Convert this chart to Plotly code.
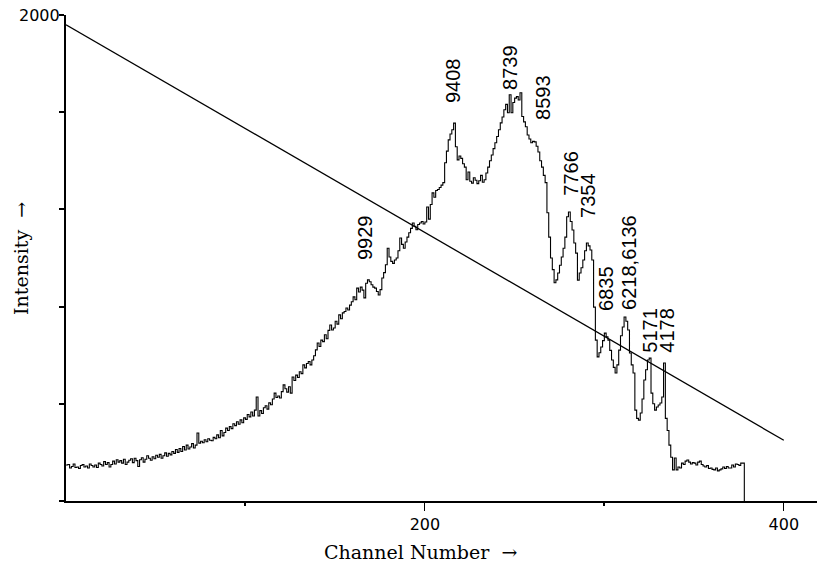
import plotly.graph_objects as go

# Counts per channel (channel index = position in list); the final 0 closes the histogram
counts = [
    148, 150, 136, 142, 152, 138, 140, 134, 146, 150,
    140, 144, 136, 152, 146, 140, 148, 138, 156, 150,
    144, 162, 150, 158, 140, 150, 164, 152, 170, 160,
    166, 156, 172, 150, 160, 168, 174, 158, 176, 166,
    142, 170, 178, 160, 172, 186, 176, 168, 182, 174,
    188, 180, 192, 176, 186, 198, 184, 196, 190, 204,
    196, 212, 200, 216, 204, 224, 210, 230, 214, 222,
    236, 218, 230, 280, 238, 246, 240, 252, 244, 256,
    250, 248, 262, 256, 272, 260, 290, 268, 282, 300,
    290, 306, 298, 318, 310, 326, 316, 334, 322, 342,
    336, 356, 346, 366, 350, 374, 428, 350, 372, 360,
    384, 392, 378, 404, 396, 420, 444, 426, 432, 424,
    450, 478, 462, 448, 470, 444, 510, 496, 518, 508,
    532, 524, 560, 548, 566, 574, 560, 580, 598, 622,
    650, 636, 662, 656, 684, 668, 702, 724, 704, 712,
    740, 728, 766, 750, 774, 780, 794, 786, 806, 820,
    840, 828, 876, 860, 880, 868, 836, 896, 910, 902,
    890, 880, 876, 862, 848, 870, 918, 940, 972, 1040,
    1004, 986, 978, 992, 1000, 1030, 1082, 1056, 1040, 1066,
    1086, 1104, 1122, 1144, 1130, 1116, 1138, 1144, 1150, 1140,
    1148, 1210, 1160, 1220, 1268, 1250, 1278, 1282, 1290, 1300,
    1310, 1392, 1440, 1486, 1510, 1528, 1555, 1458, 1404, 1420,
    1410, 1388, 1374, 1322, 1354, 1316, 1308, 1330, 1320, 1306,
    1318, 1340, 1312, 1322, 1350, 1374, 1400, 1424, 1450, 1474,
    1500, 1528, 1556, 1580, 1610, 1632, 1598, 1672, 1598, 1640,
    1658, 1664, 1650, 1680, 1582, 1560, 1540, 1506, 1490, 1474,
    1480, 1478, 1460, 1436, 1400, 1374, 1340, 1310, 1186, 1086,
    1000, 952, 898, 910, 938, 970, 1004, 1040, 1086, 1170,
    1189, 1150, 1115, 1062, 1020, 909, 938, 960, 992, 1030,
    1062, 1050, 1033, 992, 798, 662, 593, 610, 634, 660,
    691, 676, 662, 620, 580, 550, 527, 560, 621, 680,
    716, 757, 740, 704, 609, 560, 527, 374, 340, 333,
    362, 420, 498, 540, 580, 588, 444, 400, 374, 387,
    395, 403, 428, 568, 340, 290, 230, 180, 128, 177,
    128, 140, 136, 156, 150, 164, 169, 160, 152, 158,
    156, 148, 160, 164, 150, 144, 140, 146, 134, 136,
    130, 128, 136, 124, 128, 132, 140, 134, 142, 136,
    136, 148, 140, 152, 150, 146, 156, 156,
    0,
]
channels = list(range(len(counts)))

# Straight reference line across the spectrum
line_x = [0, 400]
line_y = [1960, 250]

# Peak labels: text, channel, intensity of label centre
peak_labels = ["9929", "9408", "8739", "8593", "7766", "7354",
               "6218,6136", "6835", "5171", "4178"]
peak_x = [166.6, 215.6, 247.4, 265.7, 281.3, 290.8, 313.6, 300.8, 325.3, 334.8]
peak_y = [1086, 1732, 1786, 1662, 1350, 1259, 983, 876, 704, 704]

x_major = [200, 400]
x_minor = [100, 300]
y_ticks = [0, 400, 800, 1200, 1600, 2000]
y_top_label = "2000"

fig = go.Figure()

fig.add_trace(go.Scatter(
    x=channels, y=counts, mode="lines",
    line=dict(color="black", width=1.1, shape="hv"),
    hoverinfo="skip", showlegend=False,
))

fig.add_trace(go.Scatter(
    x=line_x, y=line_y, mode="lines",
    line=dict(color="black", width=1.3),
    hoverinfo="skip", showlegend=False,
))

annotations = []
for txt, px, py in zip(peak_labels, peak_x, peak_y):
    annotations.append(dict(
        x=px, y=py, xref="x", yref="y", text=txt, textangle=-90,
        showarrow=False, xanchor="center", yanchor="middle",
        font=dict(family="Liberation Sans, Arial", size=20, color="black"),
    ))

# Only the top of the intensity scale carries a number
annotations.append(dict(
    x=-0.065, y=y_ticks[-1], xref="paper", yref="y", text=y_top_label,
    showarrow=False, xanchor="left", yanchor="middle",
    font=dict(family="DejaVu Sans", size=16, color="black"),
))

# Axis titles
annotations.append(dict(
    x=0.472, y=-0.105, xref="paper", yref="paper",
    text="Channel Number  \u2192", showarrow=False,
    xanchor="center", yanchor="middle",
    font=dict(family="DejaVu Serif", size=19, color="black"),
))
annotations.append(dict(
    x=-0.06, y=0.5, xref="paper", yref="paper",
    text="Intensity  \u2192", textangle=-90, showarrow=False,
    xanchor="center", yanchor="middle",
    font=dict(family="DejaVu Serif", size=19, color="black"),
))

fig.update_layout(
    width=817, height=567,
    margin=dict(l=66, r=0, t=15, b=66),
    paper_bgcolor="white", plot_bgcolor="white",
    annotations=annotations,
    xaxis=dict(
        range=[0, 418.5], showgrid=False, zeroline=False,
        showline=True, linecolor="black", linewidth=2,
        tickmode="array", tickvals=x_major, ticktext=[str(v) for v in x_major],
        ticks="outside", ticklen=8, tickwidth=1, tickcolor="black",
        tickfont=dict(family="DejaVu Sans", size=16, color="black"),
        minor=dict(tickmode="array", tickvals=x_minor, ticks="outside",
                   ticklen=3, tickwidth=2, tickcolor="black"),
    ),
    yaxis=dict(
        range=[0, 2000], showgrid=False, zeroline=False,
        showline=True, linecolor="black", linewidth=2,
        tickmode="array", tickvals=y_ticks, showticklabels=False,
        ticks="outside", ticklen=5, tickwidth=2, tickcolor="black",
    ),
)

fig.write_html("out.html")
